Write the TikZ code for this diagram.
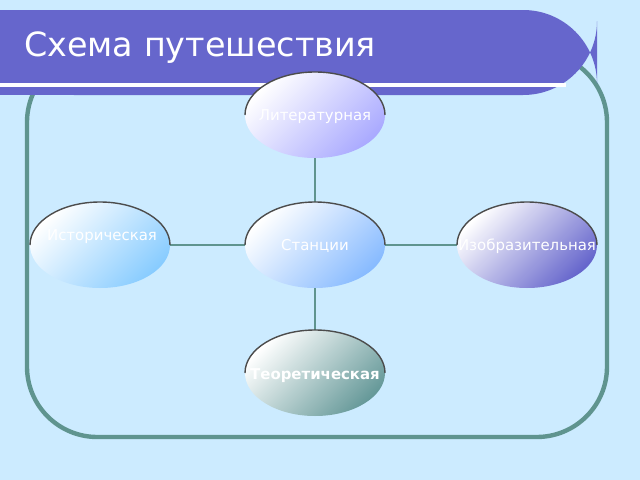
\documentclass[tikz,border=0pt]{standalone}
\usepackage{fontspec}
\setmainfont{DejaVu Sans}
\begin{document}
\begin{tikzpicture}[x=0.02cm,y=-0.02cm,
  conn/.style={draw=frame,line width=1.5pt},
  lbl/.style={font=\fontsize{8.5}{10}\selectfont,text=white}]
\definecolor{bg}{HTML}{CCEBFF}
\definecolor{frame}{HTML}{5F948F}
\definecolor{bar}{HTML}{6666CC}
\definecolor{ca}{HTML}{AAAAFF}
\definecolor{cb}{HTML}{88BBFF}
\definecolor{cc}{HTML}{88CCFF}
\definecolor{cd}{HTML}{6666CC}
\definecolor{ce}{HTML}{669999}
\useasboundingbox (0,0) rectangle (640,480);
\fill[bg] (0,0) rectangle (640,480);
\draw[frame,line width=2.5pt,rounded corners=40] (27,52) rectangle (607,437);
\fill[bar,rounded corners=42] (0,10) rectangle (597,95);
\fill[bar] (0,10) rectangle (100,95);
\draw[white,line width=2pt] (0,85) -- (566,85);
\node[anchor=west,text=white,font=\fontsize{19}{22}\selectfont] (title) at (18,48) {Схема путешествия};
\def\el#1#2#3#4{%
  \shade[top color=white,bottom color=#4,shading angle=45] (#2,#3) ellipse[x radius=70,y radius=43];
  \draw[black!70,line width=0.8pt] (#2-70,#3) arc[start angle=180,end angle=360,x radius=70,y radius=43];
  \coordinate (#1) at (#2,#3);}
\coordinate (lt) at (315,157); \coordinate (sn) at (315,202); \coordinate (ss) at (315,288);
\coordinate (th) at (315,330); \coordinate (sw) at (245,245); \coordinate (ie) at (170,245);
\coordinate (se) at (385,245); \coordinate (iw) at (457,245);
\draw[conn] (lt)--(sn); \draw[conn] (ss)--(th); \draw[conn] (sw)--(ie); \draw[conn] (se)--(iw);
\el{a}{315}{115}{ca}
\el{b}{315}{245}{cb}
\el{c}{100}{245}{cc}
\el{d}{527}{245}{cd}
\el{e}{315}{373}{ce}
\node[lbl] (ta) at (315,117) {Литературная};
\node[lbl] (tb) at (315,246) {Станции};
\node[lbl] (tc) at (102,237) {Историческая};
\node[lbl] (td) at (527,246) {Изобразительная};
\node[lbl,font=\fontsize{8.5}{10}\selectfont\bfseries] (te) at (315,376) {Теоретическая};
\end{tikzpicture}
\end{document}
